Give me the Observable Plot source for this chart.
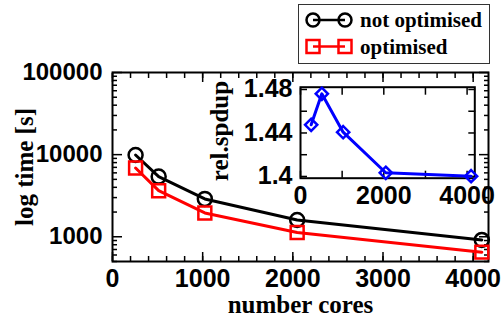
<!DOCTYPE html>
<html><head><meta charset="utf-8">
<script src="https://cdn.jsdelivr.net/npm/d3@7"></script>
<script src="https://cdn.jsdelivr.net/npm/@observablehq/plot@0.6"></script>
<style>
body{margin:0;background:#fff;}
#chart{position:relative;width:501px;height:320px;overflow:hidden;background:#fff;}
#chart svg{position:absolute;}
</style></head><body><div id="chart"></div>
<script>
// ---- data ----
const cores = [256, 512, 1024, 2048, 4096];
const timeNotOptimised = [9900, 5400, 2890, 1600, 915];
const timeOptimised = [6880, 3640, 1950, 1130, 650];
const relSpeedup = [1.4475, 1.476, 1.4407, 1.4034, 1.4003];
const seriesNames = ["not optimised", "optimised"];
const seriesColors = ["#000000", "#ff0000"];
const xTickValues = [0, 1000, 2000, 3000, 4000];
const yTickValues = [1000, 10000, 100000];
const insetXTickValues = [0, 2000, 4000];
const insetYTickValues = [1.4, 1.44, 1.48];
const xLabel = "number cores";
const yLabel = "log time [s]";
const insetYLabel = "rel.spdup";

// ---- derived tables ----
const rowsNot = cores.map((c, i) => ({cores: c, time: timeNotOptimised[i]}));
const rowsOpt = cores.map((c, i) => ({cores: c, time: timeOptimised[i]}));
const rowsSp = cores.map((c, i) => ({cores: c, sp: relSpeedup[i]}));
const xMinor = d3.range(0, 4200, 200);
const yMinor = [];
for (const dec of [100, 1000, 10000]) for (let k = 2; k <= 9; k++) if (k * dec >= 500) yMinor.push(k * dec);
const insetXMinor = [1000, 3000];
const insetYMinor = [1.42, 1.46];

const SANS = "Liberation Sans, Arial, sans-serif";
const SERIF = "Liberation Serif, Times New Roman, serif";
const tk = {strokeWidth: 1.5, tickFormat: () => "", label: null};
const lab = {tickSize: 0, fontWeight: "bold", fontFamily: SANS, label: null};
const titleStyle = {fontSize: 25, fontWeight: "bold", fontFamily: SERIF, fill: "black", textAnchor: "middle", lineAnchor: "middle"};

const chart = document.getElementById("chart");

const main = Plot.plot({
  width: 501, height: 320,
  marginLeft: 112, marginRight: 13, marginTop: 72, marginBottom: 59,
  style: {background: "transparent", overflow: "visible"},
  x: {domain: [0, 4170]},
  y: {type: "log", domain: [500, 100000]},
  marks: [
    Plot.axisX(xMinor, {anchor: "bottom", tickSize: -5, ...tk}),
    Plot.axisX(xMinor, {anchor: "top", tickSize: -5, ...tk}),
    Plot.axisX(xTickValues, {anchor: "bottom", tickSize: -9, ...tk}),
    Plot.axisX(xTickValues, {anchor: "top", tickSize: -9, ...tk}),
    Plot.axisY(yMinor, {anchor: "left", tickSize: -5, ...tk}),
    Plot.axisY(yMinor, {anchor: "right", tickSize: -5, ...tk}),
    Plot.axisY(yTickValues, {anchor: "left", tickSize: -10, ...tk}),
    Plot.axisY(yTickValues, {anchor: "right", tickSize: -10, ...tk}),
    Plot.axisX(xTickValues, {anchor: "bottom", tickPadding: 7.5, fontSize: 25, tickFormat: d => String(d), ...lab}),
    Plot.axisY(yTickValues, {anchor: "left", tickPadding: 10, fontSize: 24, tickFormat: d => String(d), ...lab}),
    Plot.frame({stroke: "black", strokeWidth: 2}),
    Plot.line(rowsNot, {x: "cores", y: "time", stroke: seriesColors[0], strokeWidth: 3}),
    Plot.line(rowsOpt, {x: "cores", y: "time", stroke: seriesColors[1], strokeWidth: 3}),
    Plot.dot(rowsNot, {x: "cores", y: "time", r: 7, stroke: seriesColors[0], strokeWidth: 2.5, fill: "none"}),
    Plot.dot(rowsOpt, {x: "cores", y: "time", r: 7.3, symbol: "square", stroke: seriesColors[1], strokeWidth: 2.5, fill: "none"}),
    Plot.text([yLabel], {text: d => d, frameAnchor: "left", dx: -88, rotate: -90, ...titleStyle}),
    Plot.text([xLabel], {text: d => d, frameAnchor: "bottom", dy: 43, ...titleStyle})
  ]
});
main.style.left = "0px"; main.style.top = "0px";
chart.appendChild(main);

const inset = Plot.plot({
  width: 300, height: 145,
  marginLeft: 105, marginRight: 20.7, marginTop: 16.7, marginBottom: 37.3,
  style: {background: "transparent", overflow: "visible"},
  x: {domain: [0, 4185]},
  y: {domain: [1.3984, 1.4821]},
  marks: [
    Plot.axisX(insetXMinor, {anchor: "bottom", tickSize: -7, ...tk}),
    Plot.axisX(insetXMinor, {anchor: "top", tickSize: -7, ...tk}),
    Plot.axisX(insetXTickValues, {anchor: "bottom", tickSize: -7, ...tk}),
    Plot.axisX(insetXTickValues, {anchor: "top", tickSize: -7, ...tk}),
    Plot.axisY(insetYMinor, {anchor: "left", tickSize: -7, ...tk}),
    Plot.axisY(insetYMinor, {anchor: "right", tickSize: -7, ...tk}),
    Plot.axisY(insetYTickValues, {anchor: "left", tickSize: -7, ...tk}),
    Plot.axisY(insetYTickValues, {anchor: "right", tickSize: -7, ...tk}),
    Plot.axisX(insetXTickValues, {anchor: "bottom", tickPadding: 8, fontSize: 25, tickFormat: d => String(d), ...lab}),
    Plot.axisY(insetYTickValues, {anchor: "left", tickPadding: 8, fontSize: 25, tickFormat: d => String(d), ...lab}),
    Plot.frame({stroke: "black", strokeWidth: 2}),
    Plot.line(rowsSp, {x: "cores", y: "sp", stroke: "#0000ff", strokeWidth: 3}),
    Plot.dot(rowsSp, {x: "cores", y: "sp", r: 5.5, symbol: "diamond2", stroke: "#0000ff", strokeWidth: 2.5, fill: "none"}),
    Plot.text([insetYLabel], {text: d => d, frameAnchor: "left", dx: -81, dy: -1.7, rotate: -90, ...titleStyle})
  ]
});
inset.style.left = "195px"; inset.style.top = "70px";
chart.appendChild(inset);

// ---- legend ----
const lg = d3.select(chart).append("svg")
  .attr("width", 501).attr("height", 70)
  .style("left", "0px").style("top", "0px").style("overflow", "visible");
lg.append("rect").attr("x", 298.5).attr("y", 4.5).attr("width", 191).attr("height", 59)
  .attr("fill", "white").attr("stroke", "#333").attr("stroke-width", 1);
seriesNames.forEach((name, i) => {
  const cy = i === 0 ? 20 : 46.5;
  const g = lg.append("g");
  g.append("line").attr("x1", 313).attr("x2", 345).attr("y1", cy).attr("y2", cy)
    .attr("stroke", seriesColors[i]).attr("stroke-width", 2.5);
  [313, 345].forEach(cx => {
    if (i === 0) g.append("circle").attr("cx", cx).attr("cy", cy).attr("r", 6.5)
      .attr("fill", "none").attr("stroke", seriesColors[i]).attr("stroke-width", 2.5);
    else g.append("rect").attr("x", cx - 6.5).attr("y", cy - 6.5).attr("width", 13).attr("height", 13)
      .attr("fill", "none").attr("stroke", seriesColors[i]).attr("stroke-width", 2.5);
  });
  g.append("text").attr("x", 360).attr("y", cy + 7).text(name)
    .attr("font-family", SERIF).attr("font-weight", "bold").attr("font-size", 21).attr("fill", "black");
});
</script></body></html>
